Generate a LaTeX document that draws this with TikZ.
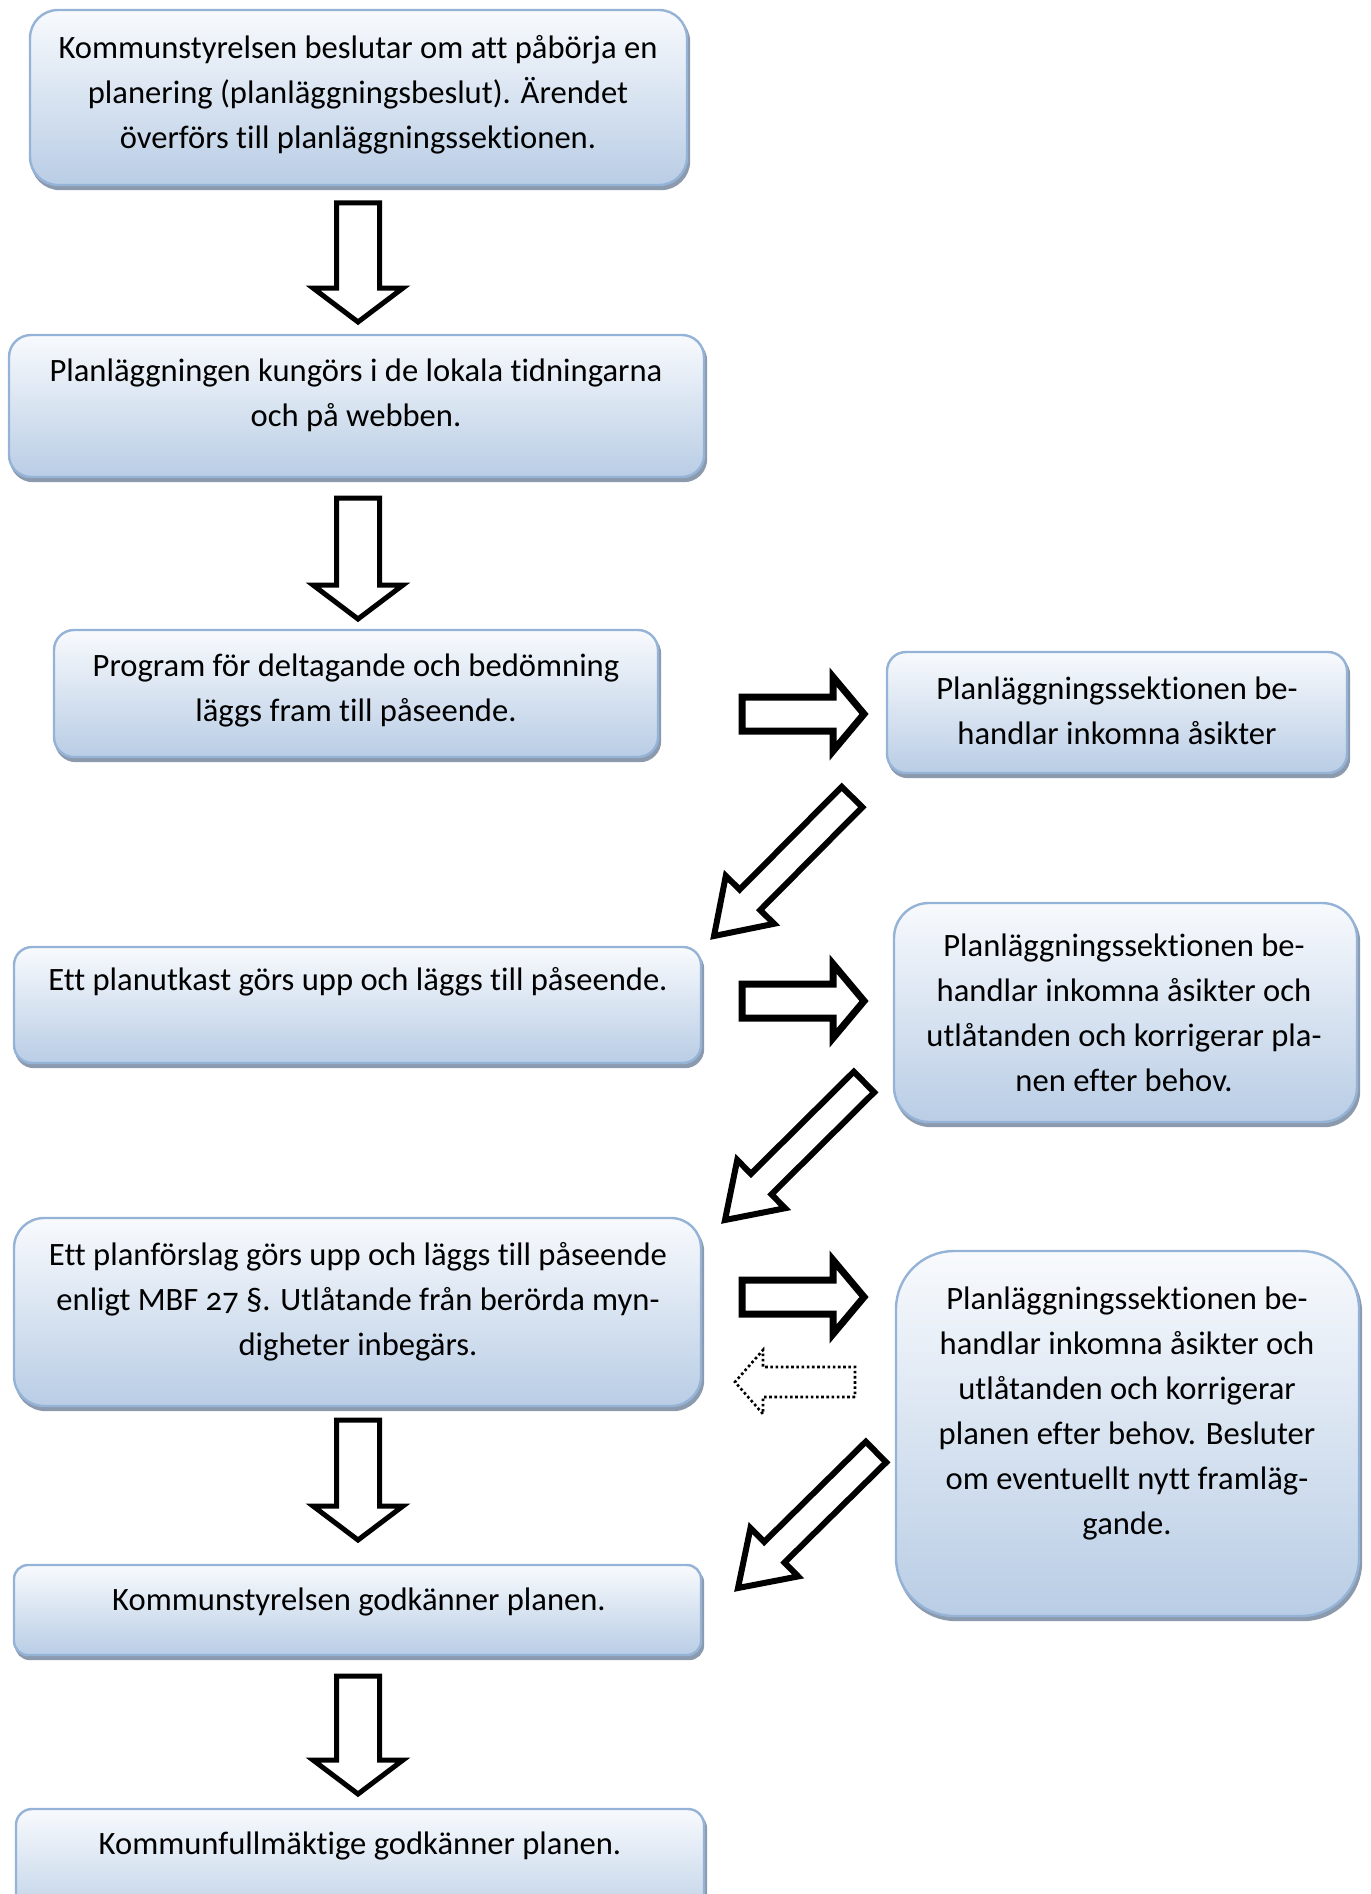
\documentclass[tikz,border=0pt]{standalone}
\usepackage{fontspec}
\setmainfont{Carlito}[Numbers=OldStyle,Ligatures=NoCommon]
\usetikzlibrary{calc,shadows}
\definecolor{boxline}{HTML}{95B3D7}
\definecolor{boxtop}{HTML}{F8FAFD}
\definecolor{boxbot}{HTML}{B9CDE5}
\definecolor{boxshadow}{HTML}{8C9AAE}
\tikzset{
  flowbox/.style={draw=boxline, line width=1.2pt, top color=boxtop, bottom color=boxbot,
    inner sep=0pt,
    drop shadow={shadow xshift=1pt, shadow yshift=-2pt, draw=boxshadow, fill=boxshadow, opacity=1}},
  boxtext/.style={align=center, font=\fontsize{16.3}{22.5}\selectfont, inner sep=0pt},
  solidarrow/.style={draw=black, fill=white, line width=#1, line join=miter},
  dotarrow/.style={draw=black, fill=white, line width=1.3pt, dash pattern=on 1.3pt off 1.3pt},
}
% #1 name, #2 style, #3 tail, #4 tip, #5 shaft half width, #6 head half width, #7 head length
\newcommand\blockarrow[7]{%
  \coordinate (#1-b) at ($(#4)!#7!(#3)$);
  \draw[#2] ($(#3)!#5!90:(#4)$) -- ($(#1-b)!#5!-90:(#3)$) -- ($(#1-b)!#6!-90:(#3)$)
    -- (#4) -- ($(#1-b)!#6!90:(#3)$) -- ($(#1-b)!#5!90:(#3)$) -- ($(#3)!#5!-90:(#4)$) -- cycle;
}
\begin{document}
\begin{tikzpicture}[x=0.5pt,y=-0.5pt]
\useasboundingbox (0,0) rectangle (1370,1894);
\clip (0,0) rectangle (1370,1894);

% boxes
\node[flowbox, minimum width=328.5pt, minimum height=87.5pt, rounded corners=14pt] (b1) at (358.5,97.5) {};
\node[flowbox, minimum width=347.5pt, minimum height=71pt, rounded corners=11pt] (b2) at (356.5,406) {};
\node[flowbox, minimum width=302pt, minimum height=63.5pt, rounded corners=10pt] (b3) at (356,693.5) {};
\node[flowbox, minimum width=230pt, minimum height=60.5pt, rounded corners=9.5pt] (b4) at (1117,712.5) {};
\node[flowbox, minimum width=343.5pt, minimum height=58pt, rounded corners=9pt] (b5) at (357.5,1005) {};
\node[flowbox, minimum width=231.5pt, minimum height=109.5pt, rounded corners=17.5pt] (b6) at (1125.5,1012.5) {};
\node[flowbox, minimum width=343.5pt, minimum height=94pt, rounded corners=15pt] (b7) at (357.5,1312) {};
\node[flowbox, minimum width=231.5pt, minimum height=182.5pt, rounded corners=29pt] (b8) at (1127.5,1433.5) {};
\node[flowbox, minimum width=343.5pt, minimum height=45pt, rounded corners=7pt] (b9) at (357.5,1610) {};
\node[flowbox, minimum width=344pt, minimum height=60pt, rounded corners=8pt] (b10) at (360,1869) {};

% texts
\node[boxtext] (t1) at (358,95) {Kommunstyrelsen beslutar om att påbörja en\\planering (planläggningsbeslut). Ärendet\\överförs till planläggningssektionen.};
\node[boxtext] (t2) at (356,395) {Planläggningen kungörs i de lokala tidningarna\\och på webben.};
\node[boxtext] (t3) at (356,690.5) {Program för deltagande och bedömning\\läggs fram till påseende.};
\node[boxtext] (t4) at (1117,710.5) {Planläggningssektionen be-\\handlar inkomna åsikter};
\node[boxtext] (t5) at (358,982) {Ett planutkast görs upp och läggs till påseende.};
\node[boxtext] (t6) at (1124,1013) {Planläggningssektionen be-\\handlar inkomna åsikter och\\utlåtanden och korrigerar pla-\\nen efter behov.};
\node[boxtext] (t7) at (358,1302) {Ett planförslag görs upp och läggs till påseende\\enligt MBF 27 §. Utlåtande från berörda myn-\\digheter inbegärs.};
\node[boxtext] (t8) at (1127,1413.5) {Planläggningssektionen be-\\handlar inkomna åsikter och\\utlåtanden och korrigerar\\planen efter behov. Besluter\\om eventuellt nytt framläg-\\gande.};
\node[boxtext] (t9) at (359,1602) {Kommunstyrelsen godkänner planen.};
\node[boxtext] (t10) at (360,1846) {Kommunfullmäktige godkänner planen.};

% arrow end points
\coordinate (d1s) at (358,203);  \coordinate (d1e) at (358,322);
\coordinate (d2s) at (358,498);  \coordinate (d2e) at (358,619);
\coordinate (d3s) at (358,1420); \coordinate (d3e) at (358,1540);
\coordinate (d4s) at (358,1676); \coordinate (d4e) at (358,1794);
\coordinate (r1s) at (742,714);  \coordinate (r1e) at (864,714);
\coordinate (r2s) at (742,1001); \coordinate (r2e) at (864,1001);
\coordinate (r3s) at (742,1297); \coordinate (r3e) at (864,1297);
\coordinate (g1s) at (852,797);  \coordinate (g1e) at (714,936);
\coordinate (g2s) at (864,1082); \coordinate (g2e) at (725,1220);
\coordinate (g3s) at (876,1452); \coordinate (g3e) at (738,1588);
\coordinate (ls) at (855,1382);  \coordinate (le) at (735,1382);

% down arrows
\blockarrow{d1}{solidarrow=2.5pt}{d1s}{d1e}{10.75pt}{22.5pt}{17pt}
\blockarrow{d2}{solidarrow=2.5pt}{d2s}{d2e}{10.75pt}{22.5pt}{17pt}
\blockarrow{d3}{solidarrow=2.5pt}{d3s}{d3e}{10.75pt}{22.5pt}{17pt}
\blockarrow{d4}{solidarrow=2.5pt}{d4s}{d4e}{10.75pt}{22.5pt}{17pt}
% right arrows
\blockarrow{r1}{solidarrow=3.5pt}{r1s}{r1e}{8.5pt}{18.5pt}{15.5pt}
\blockarrow{r2}{solidarrow=3.5pt}{r2s}{r2e}{8.5pt}{18.5pt}{15.5pt}
\blockarrow{r3}{solidarrow=3.5pt}{r3s}{r3e}{8.5pt}{18.5pt}{15.5pt}
% diagonal arrows
\blockarrow{g1}{solidarrow=3pt}{g1s}{g1e}{7.25pt}{17pt}{25.5pt}
\blockarrow{g2}{solidarrow=3pt}{g2s}{g2e}{7.25pt}{17pt}{25.5pt}
\blockarrow{g3}{solidarrow=3pt}{g3s}{g3e}{7.25pt}{17pt}{25.5pt}
% dotted back arrow
\blockarrow{l}{dotarrow}{ls}{le}{7.5pt}{16pt}{14pt}
\end{tikzpicture}
\end{document}
